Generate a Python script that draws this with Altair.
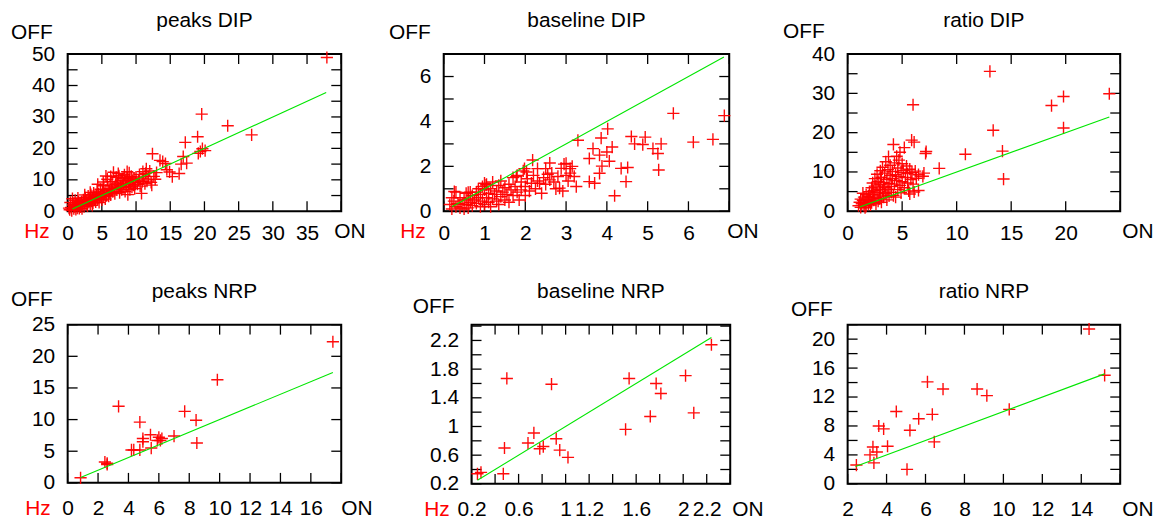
import altair as alt
import pandas as pd

FONT = "Liberation Sans"
RED = "#ff0000"
GREEN = "#00e600"

# ---------------- data (ON, OFF) ----------------
peaks_dip = [
    (0.3, 0.5), (0.5, 1.2), (0.6, 0.2), (0.8, 2.0), (0.9, 0.8), (1.0, 1.5), (1.1, 3.5), (1.2, 0.6),
    (1.3, 2.2), (1.4, 1.0), (1.5, 4.2), (1.6, 1.8), (1.7, 0.9), (1.8, 2.6), (1.9, 1.4), (2.0, 3.1),
    (0.4, 2.8), (0.7, 4.0), (1.2, 1.9), (1.6, 3.0), (0.2, 1.0), (2.1, 0.8),
    (2.2, 2.0), (2.3, 3.6), (2.4, 1.5), (2.5, 2.7), (2.6, 4.3), (2.7, 2.2), (2.8, 3.2), (2.9, 1.7),
    (3.0, 4.8), (3.1, 2.9), (3.2, 3.7), (3.3, 2.3), (3.4, 5.3), (3.5, 3.2), (3.6, 4.1), (3.7, 2.6),
    (3.8, 5.8), (3.9, 3.5), (4.0, 4.6), (2.5, 5.2), (3.3, 6.0), (3.6, 1.9),
    (4.1, 3.0), (4.2, 5.0), (4.3, 6.4), (4.4, 3.9), (4.5, 5.5), (4.6, 2.8), (4.7, 4.4), (4.8, 7.0),
    (4.9, 5.1), (5.0, 3.6), (5.1, 6.1), (5.2, 4.6), (5.3, 8.1), (5.4, 5.6), (5.5, 3.9), (5.6, 6.7),
    (5.7, 5.0), (5.8, 10.2), (5.9, 7.2), (6.0, 4.8), (4.4, 8.6), (5.2, 9.3), (5.6, 11.2),
    (6.1, 6.0), (6.2, 8.3), (6.3, 5.2), (6.4, 7.0), (6.5, 9.5), (6.6, 6.2), (6.7, 12.4), (6.8, 7.7),
    (6.9, 5.6), (7.0, 8.6), (7.1, 10.8), (7.2, 6.8), (7.3, 9.0), (7.4, 7.4), (7.5, 11.3), (7.6, 5.9),
    (7.7, 8.1), (7.8, 9.7), (7.9, 6.9), (8.0, 10.4), (6.3, 11.0), (7.4, 12.0),
    (8.1, 7.6), (8.2, 8.9), (8.3, 11.6), (8.4, 6.3), (8.5, 9.6), (8.6, 7.9), (8.7, 10.8), (8.8, 5.3),
    (8.9, 8.5), (9.0, 10.0), (9.1, 6.9), (9.2, 9.2), (9.3, 11.1), (9.4, 7.7), (9.5, 9.8), (9.6, 8.3),
    (9.7, 10.5), (9.8, 7.2), (9.9, 9.1), (10.0, 10.9), (9.0, 12.2), (8.7, 12.6),
    (10.2, 8.6), (10.4, 9.9), (10.5, 11.7), (10.6, 8.0), (10.8, 5.7), (10.9, 9.4), (11.0, 12.6),
    (11.1, 10.3), (11.3, 8.8), (11.4, 12.1), (11.6, 9.6), (11.8, 11.0), (12.0, 12.8), (12.2, 9.2),
    (12.4, 18.3), (12.6, 11.1), (12.8, 10.2), (13.0, 12.3), (11.5, 13.5), (12.3, 8.3),
    (13.5, 16.2), (13.9, 15.8), (14.3, 15.2), (14.5, 13.2), (14.9, 12.5), (15.3, 11.0), (16.3, 12.0),
    (16.6, 15.0), (16.9, 17.4), (17.4, 15.3), (17.2, 21.9), (19.0, 23.7), (19.1, 18.4), (19.4, 19.0),
    (19.7, 19.9), (20.1, 19.3), (19.6, 30.9), (23.4, 27.2), (26.9, 24.3), (37.9, 48.9),
]

baseline_dip = [
    (0.15, 0.3), (0.2, 0.1), (0.25, 0.45), (0.3, 0.2), (0.3, 0.85), (0.35, 0.35), (0.4, 0.15),
    (0.4, 0.6), (0.45, 0.3), (0.5, 0.5), (0.5, 0.1), (0.55, 0.8), (0.2, 0.6), (0.26, 0.88), (0.6, 0.84),
    (0.55, 0.3), (0.6, 0.55), (0.6, 0.15), (0.65, 0.4), (0.7, 0.7), (0.7, 0.25), (0.75, 0.5),
    (0.8, 0.85), (0.8, 0.35), (0.85, 0.6), (0.9, 0.2), (0.9, 0.75), (0.95, 0.45), (1.0, 0.95),
    (1.0, 0.3), (0.65, 0.85), (0.85, 1.0), (0.95, 1.1), (1.04, 1.17), (1.0, 1.25),
    (1.05, 0.6), (1.05, 1.2), (1.1, 0.8), (1.1, 0.4), (1.15, 1.0), (1.2, 0.55), (1.2, 1.3),
    (1.25, 0.75), (1.3, 0.9), (1.3, 0.45), (1.35, 1.15), (1.4, 0.65), (1.4, 1.35), (1.45, 0.85),
    (1.5, 1.05), (1.5, 0.5), (1.15, 0.2), (1.35, 0.3),
    (1.55, 0.75), (1.6, 1.2), (1.6, 0.4), (1.65, 0.95), (1.7, 1.5), (1.7, 0.7), (1.75, 1.1),
    (1.8, 0.85), (1.8, 1.6), (1.85, 0.5), (1.9, 1.3), (1.9, 0.95), (1.95, 1.8), (2.0, 1.1),
    (2.0, 0.7), (1.78, 1.54), (1.98, 1.9), (2.03, 1.75),
    (2.05, 1.45), (2.1, 0.9), (2.15, 1.25), (2.18, 2.28), (2.2, 1.6), (2.25, 1.0), (2.3, 1.35),
    (2.35, 1.25), (2.4, 0.8), (2.45, 1.5), (2.5, 1.2), (2.55, 1.65), (2.6, 1.4), (2.6, 2.15),
    (2.65, 1.7), (2.7, 1.3), (2.3, 1.9), (2.5, 1.9),
    (2.75, 1.0), (2.8, 1.55), (2.84, 1.03), (2.88, 1.91), (2.92, 0.9), (2.95, 2.1), (3.0, 1.6),
    (3.0, 2.13), (3.05, 1.35), (3.1, 1.9), (3.1, 1.7), (3.15, 2.0), (3.25, 1.1), (3.29, 3.16),
    (3.2, 1.55),
    (3.57, 1.32), (3.7, 1.25), (3.57, 2.35), (3.66, 2.79), (3.82, 2.5), (3.82, 1.69), (3.86, 3.26),
    (3.88, 2.01), (4.0, 2.64), (4.02, 3.67), (4.06, 2.23), (4.13, 2.86), (4.19, 0.69), (4.35, 1.91),
    (4.47, 1.32), (4.51, 1.95), (4.6, 3.33), (4.68, 3.0), (4.88, 2.97), (4.94, 3.3), (5.13, 2.79),
    (5.25, 2.57), (5.27, 1.84), (5.33, 3.0), (5.63, 4.36), (6.12, 3.08), (6.6, 3.2), (6.88, 4.26),
]

ratio_dip = [
    (1.0, 1.4), (1.1, 2.3), (1.2, 3.1), (1.2, 1.0), (1.3, 1.9), (1.4, 2.8), (1.5, 1.5), (1.5, 3.6),
    (1.6, 2.2), (1.7, 4.2), (1.7, 1.3), (1.8, 2.9), (1.9, 1.8), (1.9, 3.8), (2.0, 2.5), (2.0, 5.0),
    (1.4, 4.6), (1.6, 0.9),
    (2.1, 1.6), (2.1, 3.4), (2.2, 6.0), (2.2, 2.2), (2.3, 4.3), (2.3, 7.2), (2.4, 2.8), (2.4, 5.3),
    (2.5, 3.6), (2.5, 8.3), (2.6, 1.9), (2.6, 6.4), (2.7, 4.7), (2.7, 9.4), (2.8, 2.6), (2.8, 7.6),
    (2.9, 5.6), (2.9, 3.2), (3.0, 10.3), (3.0, 6.8), (3.0, 4.1),
    (3.1, 8.6), (3.1, 2.3), (3.2, 5.2), (3.2, 11.2), (3.3, 7.3), (3.3, 3.6), (3.4, 9.7), (3.4, 6.1),
    (3.5, 4.5), (3.5, 12.6), (3.6, 8.1), (3.6, 2.9), (3.7, 10.6), (3.7, 5.6), (3.75, 13.9), (3.8, 7.1),
    (3.8, 3.9), (3.9, 9.1), (3.9, 11.7), (4.0, 6.3), (4.0, 4.8),
    (4.1, 8.3), (4.1, 10.1), (4.2, 17.0), (4.2, 4.0), (4.3, 12.3), (4.3, 6.9), (4.4, 9.3), (4.4, 3.6),
    (4.5, 14.0), (4.5, 7.8), (4.6, 5.5), (4.6, 11.0), (4.7, 8.8), (4.7, 13.0), (4.8, 15.0), (4.8, 6.6),
    (4.9, 9.9), (4.9, 4.7), (5.0, 12.1), (5.0, 7.5),
    (5.1, 10.4), (5.2, 16.2), (5.2, 6.0), (5.3, 8.6), (5.4, 11.5), (5.5, 7.2), (5.5, 9.6), (5.6, 5.2),
    (5.7, 4.4), (5.7, 10.7), (5.8, 8.1), (5.87, 18.1), (5.9, 9.9), (6.0, 27.1), (6.0, 6.9), (6.1, 17.6),
    (6.1, 4.9), (6.2, 10.2), (6.3, 8.4), (6.5, 9.3), (6.5, 5.3),
    (6.9, 8.9), (7.0, 9.7), (7.15, 14.7), (7.2, 15.2), (8.4, 10.9), (10.8, 14.5), (13.05, 35.6),
    (13.35, 20.6), (14.2, 15.3), (14.3, 8.2), (18.7, 26.9), (19.8, 29.2), (19.8, 21.2), (24.0, 29.9),
]

peaks_nrp = [
    (0.85, 0.8), (2.45, 3.3), (2.6, 2.9), (2.6, 3.1), (3.35, 12.1), (4.2, 5.2), (4.35, 5.2),
    (4.75, 9.6), (4.75, 5.2), (4.95, 7.0), (4.95, 6.5), (5.45, 7.6), (5.5, 5.5), (6.0, 7.2),
    (6.1, 6.7), (6.2, 7.0), (5.9, 6.7), (7.0, 7.4), (7.7, 11.3), (8.45, 9.9), (8.5, 6.3),
    (9.85, 16.3), (17.45, 22.3),
]

baseline_nrp = [
    (0.25, 0.34), (0.28, 0.36), (0.47, 0.34), (0.48, 0.70), (0.50, 1.67), (0.68, 0.77), (0.73, 0.91),
    (0.78, 0.69), (0.81, 0.72), (0.88, 1.59), (0.92, 0.83), (0.95, 0.67), (1.02, 0.57), (1.51, 0.96),
    (1.54, 1.67), (1.72, 1.14), (1.77, 1.60), (1.81, 1.46), (2.02, 1.71), (2.09, 1.19), (2.24, 2.14),
]

ratio_nrp = [
    (2.45, 2.6), (3.15, 4.0), (3.3, 5.1), (3.35, 2.9), (3.5, 4.4), (3.6, 8.0), (3.85, 7.6),
    (4.05, 5.2), (4.5, 10.0), (5.05, 2.0), (5.2, 7.4), (5.65, 9.0), (6.1, 14.1), (6.35, 9.6),
    (6.45, 5.8), (6.9, 13.1), (8.65, 13.1), (9.15, 12.2), (10.3, 10.3), (14.4, 21.4), (15.2, 15.0),
]

# green reference line OFF = ON, drawn between these ON values
peaks_dip_fit = [0.7, 37.8]
baseline_dip_fit = [0.2, 6.87]
ratio_dip_fit = [1.1, 24.0]
peaks_nrp_fit = [0.85, 17.45]
baseline_nrp_fit = [0.25, 2.24]
ratio_nrp_fit = [2.4, 15.2]

# tick marks and tick labels
peaks_dip_xticks = [0, 5, 10, 15, 20, 25, 30, 35, 40]
peaks_dip_xlabels = [0, 5, 10, 15, 20, 25, 30, 35]
peaks_dip_yticks = [0, 5, 10, 15, 20, 25, 30, 35, 40, 45, 50]
peaks_dip_ylabels = [0, 10, 20, 30, 40, 50]

baseline_dip_xticks = [0, 1, 2, 3, 4, 5, 6, 7]
baseline_dip_xlabels = [0, 1, 2, 3, 4, 5, 6]
baseline_dip_yticks = [0, 1, 2, 3, 4, 5, 6, 7]
baseline_dip_ylabels = [0, 2, 4, 6]

ratio_dip_xticks = [0, 5, 10, 15, 20, 25]
ratio_dip_xlabels = [0, 5, 10, 15, 20]
ratio_dip_yticks = [0, 5, 10, 15, 20, 25, 30, 35, 40]
ratio_dip_ylabels = [0, 10, 20, 30, 40]

peaks_nrp_xticks = [0, 2, 4, 6, 8, 10, 12, 14, 16, 18]
peaks_nrp_xlabels = [0, 2, 4, 6, 8, 10, 12, 14, 16]
peaks_nrp_yticks = [0, 5, 10, 15, 20, 25]
peaks_nrp_ylabels = [0, 5, 10, 15, 20, 25]

baseline_nrp_xticks = [0.2, 0.4, 0.6, 0.8, 1.0, 1.2, 1.4, 1.6, 1.8, 2.0, 2.2, 2.4]
baseline_nrp_xlabels = [0.2, 0.6, 1, 1.2, 1.6, 2, 2.2]
baseline_nrp_yticks = [0.2, 0.4, 0.6, 0.8, 1.0, 1.2, 1.4, 1.6, 1.8, 2.0, 2.2, 2.4]
baseline_nrp_ylabels = [0.2, 0.6, 1, 1.4, 1.8, 2.2]

ratio_nrp_xticks = [2, 4, 6, 8, 10, 12, 14, 16]
ratio_nrp_xlabels = [2, 4, 6, 8, 10, 12, 14]
ratio_nrp_yticks = [0, 2, 4, 6, 8, 10, 12, 14, 16, 18, 20, 22]
ratio_nrp_ylabels = [0, 4, 8, 12, 16, 20]

one = pd.DataFrame({"k": [0]})
FS = 21


def txt(text, x, y, align="left", size=FS, color="black"):
    return alt.Chart(one).mark_text(
        text=text, align=align, baseline="alphabetic", font=FONT, fontSize=size, color=color
    ).encode(x=alt.value(x), y=alt.value(y))


def panel(title, pts, fit, xdom, ydom, xticks, xlabels, yticks, ylabels,
          W, H, L, R, T, B, off_xy, hz_x, on_x, lab_pad, base):
    xsc = alt.Scale(domain=xdom, nice=False, zero=False)
    ysc = alt.Scale(domain=ydom, nice=False, zero=False)
    df = pd.DataFrame(pts, columns=["x", "y"])
    axis_common = dict(title=None, grid=False, domain=False, ticks=False, tickSize=0,
                       labelFont=FONT, labelFontSize=FS, labelColor="black",
                       labelOverlap=False, format="~r")
    xaxis = alt.Axis(values=xlabels, labelPadding=lab_pad, labelFlush=False, **axis_common)
    yaxis = alt.Axis(values=ylabels, labelPadding=13, **axis_common)
    X = alt.X("x:Q", scale=xsc, axis=xaxis)
    Y = alt.Y("y:Q", scale=ysc, axis=yaxis)

    points = alt.Chart(df).mark_point(
        shape="M-1,0L1,0M0,-1L0,1", filled=False, color=RED, size=150, strokeWidth=1.4, opacity=0.95
    ).encode(x=X, y=Y)
    fit_df = pd.DataFrame({"x": fit, "y": fit})
    line = alt.Chart(fit_df).mark_line(color=GREEN, strokeWidth=1.1).encode(x=X, y=Y)
    xt = pd.DataFrame({"x": xticks})
    yt = pd.DataFrame({"y": yticks})
    tl = 10
    tick_layers = [
        alt.Chart(xt).mark_rule(color="black", strokeWidth=1.3).encode(
            x=X, y=alt.value(H), y2=alt.value(H - tl)),
        alt.Chart(xt).mark_rule(color="black", strokeWidth=1.3).encode(
            x=X, y=alt.value(0), y2=alt.value(tl)),
        alt.Chart(yt).mark_rule(color="black", strokeWidth=1.3).encode(
            y=Y, x=alt.value(0), x2=alt.value(tl)),
        alt.Chart(yt).mark_rule(color="black", strokeWidth=1.3).encode(
            y=Y, x=alt.value(W), x2=alt.value(W - tl)),
    ]
    anchor = alt.Chart(one).mark_rect(opacity=0).encode(
        x=alt.value(-L), x2=alt.value(W + R), y=alt.value(-T), y2=alt.value(H + B)
    )
    texts = [
        txt(title, W / 2, -27, align="center", size=21),
        txt("OFF", off_xy[0], off_xy[1]),
        txt("ON", W + on_x, H + base),
    ]
    if hz_x is not None:
        texts.append(txt("Hz", hz_x, H + base, align="right", color=RED))
    return alt.layer(anchor, *tick_layers, points, line, *texts).properties(width=W, height=H)


p1 = panel("peaks DIP", peaks_dip, peaks_dip_fit, [0, 40], [0, 50],
           peaks_dip_xticks, peaks_dip_xlabels, peaks_dip_yticks, peaks_dip_ylabels,
           275, 158, 67, 43, 52, 52, (-57, -15), -18, -7, 11, 27)
p2 = panel("baseline DIP", baseline_dip, baseline_dip_fit, [0, 7], [0, 7],
           baseline_dip_xticks, baseline_dip_xlabels, baseline_dip_yticks, baseline_dip_ylabels,
           287, 158, 58, 42, 52, 52, (-55, -15), -18, -2, 11, 27)
p3 = panel("ratio DIP", ratio_dip, ratio_dip_fit, [0, 25], [0, 40],
           ratio_dip_xticks, ratio_dip_xlabels, ratio_dip_yticks, ratio_dip_ylabels,
           274, 158, 75, 41, 52, 52, (-65, -16), None, 2, 11, 27)
p4 = panel("peaks NRP", peaks_nrp, peaks_nrp_fit, [0, 18], [0, 25],
           peaks_nrp_xticks, peaks_nrp_xlabels, peaks_nrp_yticks, peaks_nrp_ylabels,
           275, 159, 67, 48, 60, 38, (-57, -19), -17, 0, 15, 32)
p5 = panel("baseline NRP", baseline_nrp, baseline_nrp_fit, [0.2, 2.4], [0.2, 2.42],
           baseline_nrp_xticks, baseline_nrp_xlabels, baseline_nrp_yticks, baseline_nrp_ylabels,
           260, 160, 81, 44, 60, 37, (-59, -12), -22, 2, 15, 32)
p6 = panel("ratio NRP", ratio_nrp, ratio_nrp_fit, [2, 16], [0, 22],
           ratio_nrp_xticks, ratio_nrp_xlabels, ratio_nrp_yticks, ratio_nrp_ylabels,
           274, 160, 72, 41, 60, 37, (-57, -9), None, 2, 15, 32)

row1 = alt.hconcat(p1, p2, p3, spacing=0)
row2 = alt.hconcat(p4, p5, p6, spacing=0)
chart = alt.vconcat(row1, row2, spacing=0).properties(
    padding=0, background="white"
).configure_view(stroke="black", strokeWidth=2)

chart.save("out.html", embed_options={"renderer": "svg", "actions": False})
